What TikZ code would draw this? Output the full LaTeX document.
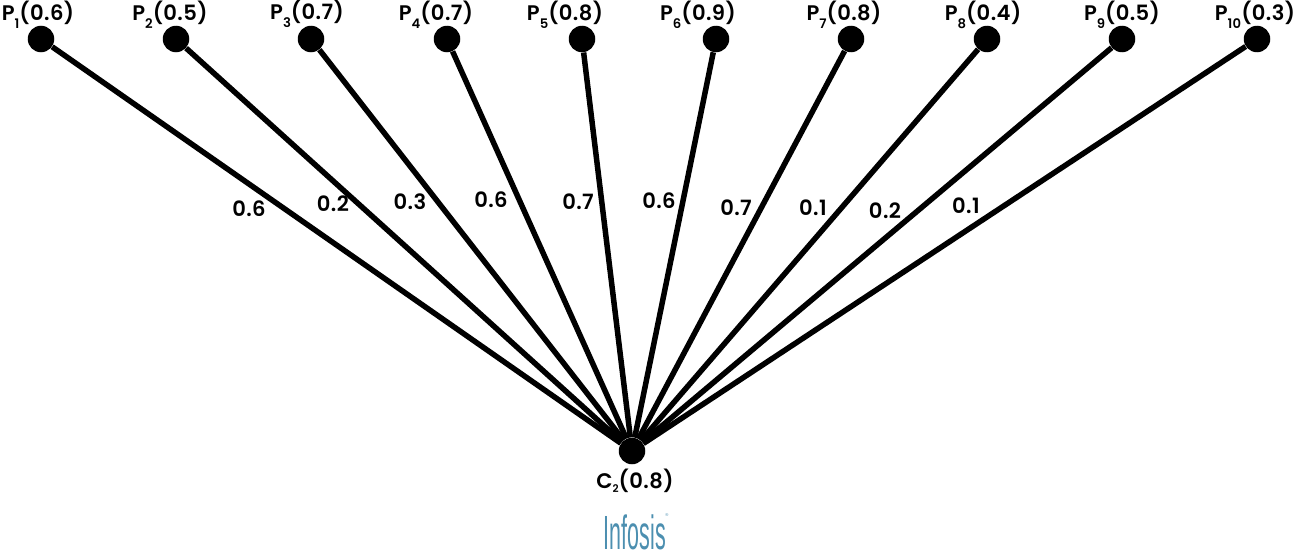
\documentclass[tikz,border=0pt]{standalone}
\usepackage{fontspec}
\setmainfont{Poppins SemiBold}[LetterSpace=2]
\newfontfamily\logofont{Liberation Sans}
\newcommand{\lsub}[1]{\raisebox{-0.7ex}{\fontsize{7.5}{8}\selectfont #1}}
\definecolor{logoblue}{HTML}{4C8FB0}
\begin{document}
\begin{tikzpicture}[
  x=0.2mm, y=-0.2mm,
  v/.style={circle, fill=black, inner sep=0pt, minimum size=5.3mm},
  e/.style={line width=1.1mm},
  t/.style={inner sep=0pt, font=\fontsize{12}{14}\selectfont},
  w/.style={t}
]
\useasboundingbox (0,0) rectangle (1297,552);
\node[v] (p1) at (41,39) {};
\node[v] (p2) at (176,39) {};
\node[v] (p3) at (311,39) {};
\node[v] (p4) at (447,39) {};
\node[v] (p5) at (582,39) {};
\node[v] (p6) at (716,39) {};
\node[v] (p7) at (851,39) {};
\node[v] (p8) at (987,39) {};
\node[v] (p9) at (1122,39) {};
\node[v] (p10) at (1257,39) {};
\node[v] (c2) at (632,451) {};
\draw[e] (p1)--(c2);
\draw[e] (p2)--(c2);
\draw[e] (p3)--(c2);
\draw[e] (p4)--(c2);
\draw[e] (p5)--(c2);
\draw[e] (p6)--(c2);
\draw[e] (p7)--(c2);
\draw[e] (p8)--(c2);
\draw[e] (p9)--(c2);
\draw[e] (p10)--(c2);
\node[t] (lp1) at (38,15) {P\lsub{1}(0.6)};
\node[t] (lp2) at (170,15) {P\lsub{2}(0.5)};
\node[t] (lp3) at (307,14) {P\lsub{3}(0.7)};
\node[t] (lp4) at (436,15) {P\lsub{4}(0.7)};
\node[t] (lp5) at (565,15) {P\lsub{5}(0.8)};
\node[t] (lp6) at (698,15) {P\lsub{6}(0.9)};
\node[t] (lp7) at (844,15) {P\lsub{7}(0.8)};
\node[t] (lp8) at (983,15) {P\lsub{8}(0.4)};
\node[t] (lp9) at (1122,15) {P\lsub{9}(0.5)};
\node[t] (lp10) at (1255,15) {P\lsub{10}(0.3)};
\node[t] (lc2) at (635,481) {C\raisebox{-0.3ex}{\fontsize{6}{7}\selectfont 2}(0.8)};
\node[w] (w1) at (249,209) {0.6};
\node[w] (w2) at (333,204) {0.2};
\node[w] (w3) at (410,202) {0.3};
\node[w] (w4) at (491,200) {0.6};
\node[w] (w5) at (578,202) {0.7};
\node[w] (w6) at (659,201) {0.6};
\node[w] (w7) at (736,208) {0.7};
\node[w] (w8) at (813,208) {0.1};
\node[w] (w9) at (885,211) {0.2};
\node[w] (w10) at (966,206) {0.1};
\node[inner sep=0pt, text=logoblue, xscale=0.94, yscale=2.1, font=\logofont\fontsize{13}{14}\selectfont] (logo) at (635,532) {Infosis};
\node[inner sep=0pt, text=logoblue!60, font=\fontsize{4}{5}\selectfont] (reg) at (667,516) {®};
\end{tikzpicture}
\end{document}
